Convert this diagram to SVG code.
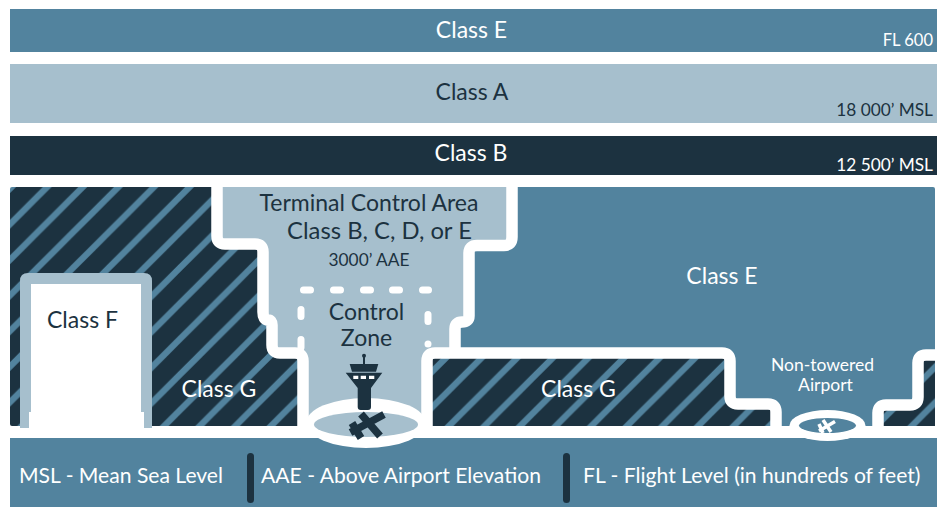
<svg xmlns="http://www.w3.org/2000/svg" width="938" height="507" viewBox="0 0 938 507">
<defs>
<pattern id="hatch" patternUnits="userSpaceOnUse" width="35.6" height="35.6">
<rect width="35.6" height="35.6" fill="#1c3240"/>
<path d="M-2,22.6 L22.6,-2 M-2,58.2 L58.2,-2" stroke="#52839e" stroke-width="6.3" fill="none"/>
</pattern>
</defs>
<style>
text{font-family:"Lato","Noto Sans","Liberation Sans",sans-serif;font-size:23px}
.w{fill:#ffffff}.d{fill:#1c3240}.m{text-anchor:middle}.e{text-anchor:end}
.s{font-size:17.300px}.xs{font-size:16.500px}.b{font-size:21.100px}
.n{font-size:17.500px}
.edge{fill:none;stroke:#ffffff;stroke-width:11.5;stroke-linejoin:round}
.dash{fill:none;stroke:#ffffff;stroke-width:7;stroke-linecap:round}
.mid{fill:#52839e}.light{fill:#a6bfcd}.dark{fill:#1c3240}
</style>
<rect width="938" height="507" fill="#ffffff"/>
<g id="band-class-e"><rect class="mid" x="10" y="9" width="927" height="43"/><text class="w m" x="471.500" y="38">Class E</text><text class="w e xs" x="933" y="46">FL 600</text></g>
<g id="band-class-a"><rect class="light" x="10" y="64" width="927" height="59"/><text class="d m" x="472" y="100">Class A</text><text class="d e s" x="933" y="116">18 000’ MSL</text></g>
<g id="band-class-b"><rect class="dark" x="10" y="136" width="927" height="39"/><text class="w m" x="471" y="161">Class B</text><text class="w e s" x="933" y="171">12 500’ MSL</text></g>
<g id="class-g-left"><rect x="10" y="187" width="295" height="239" rx="2" fill="url(#hatch)"/><text class="w m" x="219" y="397">Class G</text></g>
<g id="class-e-mid"><path class="mid" d="M460,187H933Q935,187 935,189V426H460Z"/><text class="w m" x="722" y="284">Class E</text></g>
<g id="class-g-right"><rect x="427" y="353" width="303" height="73" rx="2" fill="url(#hatch)"/><rect x="725" y="404" width="51" height="22" fill="url(#hatch)"/><path d="M878,426V405H918V355H935V426Z" fill="url(#hatch)"/><text class="w m" x="578.500" y="397">Class G</text></g>
<g id="terminal-area"><path class="light" d="M217,187H512V245H469V322H455V353H427V426H303V353H272V320H263V244H217Z"/></g>
<g id="connectors">
<path class="edge" d="M217,187V236Q217,244 225,244H255Q263,244 263,252V312Q263,320 268,320Q272,320 272,325V345Q272,353 280,353H295Q303,353 303,361V430"/>
<path class="edge" d="M512,187V237Q512,245.500 504,245.500H477Q469,245.500 469,253V316Q469,322 462,322Q455,322 455,329V353"/>
<path class="edge" d="M427,430V361Q427,353 435,353H722Q730,353 730,361V396Q730,404 738,404H768Q776,404 776,412V430"/>
<path class="edge" d="M878,430V413Q878,405 886,405H910Q918,405 918,397V363Q918,355 926,355H938"/>
<path class="dash" d="M303.500,290h7M333.500,290h7M363.500,290h7M392.500,290h7M422.500,290h6M301,309.500v7M301,339.500v8M428,314.500v7M428,344v0"/>
</g>
<rect x="0" y="426" width="938" height="12" fill="#ffffff"/>
<g id="bottom-legend"><rect class="mid" x="10" y="438" width="927" height="69"/>
<rect class="dark" x="247" y="453" width="7" height="50" rx="3.500"/><rect class="dark" x="563" y="453" width="7" height="50" rx="3.500"/>
<text class="w b" x="19" y="483">MSL - Mean Sea Level</text><text class="w b" x="261" y="483">AAE - Above Airport Elevation</text><text class="w b" x="583" y="483">FL - Flight Level (in hundreds of feet)</text></g>
<g id="class-f"><path class="light" d="M20,428V281Q20,273 28,273H144Q152,273 152,281V428Z"/><path fill="#ffffff" d="M31,412V284H141V412H144V428H29V412Z"/><text class="d m" x="82.500" y="328">Class F</text></g>
<g id="terminal-labels"><text class="d m" x="369" y="211">Terminal Control Area</text><text class="d m" x="379.500" y="239" style="font-size:23.800px">Class B, C, D, or E</text><text class="d m s" x="369" y="265.500">3000’ AAE</text><text class="d m" x="366.500" y="320">Control</text><text class="d m" x="366.500" y="346">Zone</text></g>
<g id="towered-airport"><ellipse cx="366" cy="423" rx="60" ry="25" fill="#ffffff"/><ellipse class="light" cx="366" cy="424.500" rx="52" ry="12.500"/>
<path d="M350.500,432.500L384,414.500M361,414L380,436M352,423L361,438" stroke="#1c3240" stroke-width="7.500" fill="none"/></g>
<g id="tower"><circle class="dark" cx="364" cy="355.700" r="2"/><rect class="dark" x="363" y="356" width="2" height="8"/><path class="dark" d="M349.700,364H378.300L376,371.700H352ZM345.700,372.700H382.300L371,388V407Q371,410 368,410H360.700Q357.700,410 357.700,407V388Z"/>
<path fill="#ffffff" d="M353.300,375.700h5v3.300h-5zM360.700,375.700h5.300v3.300h-5.300zM369,375.700h5.300v3.300h-5.300z"/></g>
<g id="non-towered-airport"><ellipse cx="827.500" cy="425.500" rx="38" ry="15.500" fill="#ffffff"/><ellipse class="mid" cx="827.500" cy="425.500" rx="28.500" ry="7.500"/><path d="M819,431L835,421.500M823,420L831,432M819,424L823,433" stroke="#ffffff" stroke-width="3.500" fill="none"/><text class="w m n" x="822.500" y="371">Non-towered</text><text class="w m n" x="825.500" y="391">Airport</text></g>
</svg>
